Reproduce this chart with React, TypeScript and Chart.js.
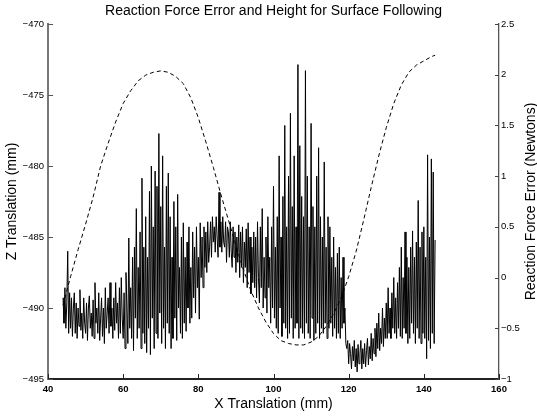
import React, { useEffect, useRef } from "react";
import { Chart, registerables } from "chart.js";

Chart.register(...registerables);

const TITLE = "Reaction Force Error and Height for Surface Following";
const X_LABEL = "X Translation (mm)";
const Y_LEFT_LABEL = "Z Translation (mm)";
const Y_RIGHT_LABEL = "Reaction Force Error (Newtons)";

const X_TICKS = [40, 60, 80, 100, 120, 140, 160];
const Z_TICKS = [-495, -490, -485, -480, -475, -470];
const F_TICKS = [-1, -0.5, 0, 0.5, 1, 1.5, 2, 2.5];

// Dashed series: Z height (mm) vs X translation (mm)
const heightX = [
  44, 46, 48, 50, 52, 54, 56, 58, 60, 62, 64, 66, 68, 70, 72, 74, 76, 78, 80,
  82, 84, 86, 88, 90, 92, 94, 96, 98, 100, 102, 104, 106, 108, 110, 112, 114,
  116, 118, 120, 122, 124, 126, 128, 130, 132, 134, 136, 138, 140, 142, 143,
];
const heightZ = [
  -489.8, -487.8, -485.9, -484.1, -482.2, -480.0, -478.4, -476.9, -475.6,
  -474.7, -474.0, -473.6, -473.4, -473.3, -473.4, -473.7, -474.2, -475.2,
  -476.6, -478.3, -480.1, -482.0, -483.8, -485.6, -487.3, -488.8, -490.0,
  -491.0, -491.8, -492.3, -492.5, -492.6, -492.6, -492.4, -492.0, -491.3,
  -490.4, -489.3, -487.8, -486.0, -483.8, -481.5, -479.3, -477.3, -475.6,
  -474.3, -473.4, -472.9, -472.6, -472.3, -472.2,
];

// Solid series: reaction force error (N), sampled every 0.25 mm from 44 mm
const FORCE_X_START = 44;
const FORCE_X_STEP = 0.25;
const forceValues = [
  -0.2, -0.45, -0.1, -0.5, // 44
  -0.25, 0.26, -0.55, -0.15, // 45
  -0.5, -0.2, -0.58, -0.3, // 46
  -0.15, -0.55, -0.25, -0.6, // 47
  -0.3, -0.48, -0.12, -0.52, // 48
  -0.35, -0.6, -0.2, -0.45, // 49
  -0.55, -0.25, -0.62, -0.3, // 50
  -0.18, -0.5, -0.35, -0.58, // 51
  -0.22, -0.6, -0.05, -0.45, // 52
  -0.3, -0.55, -0.15, -0.62, // 53
  -0.4, -0.2, -0.58, -0.3, // 54
  -0.65, -0.1, -0.5, -0.35, // 55
  -0.2, -0.55, -0.05, -0.48, // 56
  -0.3, -0.6, -0.2, -0.52, // 57
  -0.05, -0.45, -0.25, -0.6, // 58
  -0.1, -0.55, 0.0, -0.4, // 59
  -0.6, -0.15, -0.7, 0.05, // 60
  -0.3, -0.65, 0.39, -0.5, // 61
  -0.1, -0.6, 0.2, -0.72, // 62
  0.3, -0.4, 0.68, -0.6, // 63
  0.1, -0.5, 0.45, -0.7, // 64
  0.98, -0.55, 0.3, -0.65, // 65
  0.6, -0.74, 0.2, -0.5, // 66
  0.85, -0.76, 1.1, -0.4, // 67
  0.5, -0.7, 1.05, -0.55, // 68
  0.9, -0.6, 1.42, -0.35, // 69
  0.7, -0.65, 1.2, -0.5, // 70
  0.3, -0.7, 0.9, -0.45, // 71
  1.03, -0.55, 0.6, -0.7, // 72
  0.2, -0.6, 0.75, -0.4, // 73
  0.5, -0.62, 0.82, -0.3, // 74
  0.1, -0.55, 0.4, -0.6, // 75
  0.54, -0.45, 0.2, -0.53, // 76
  0.35, -0.3, 0.5, -0.45, // 77
  0.1, -0.4, 0.45, -0.2, // 78
  0.3, -0.35, 0.5, -0.1, // 79
  0.2, -0.41, 0.54, 0.0, // 80
  0.4, -0.1, 0.5, 0.1, // 81
  0.45, 0.05, 0.55, 0.15, // 82
  0.3, 0.55, 0.2, 0.6, // 83
  0.35, 0.5, 0.25, 0.6, // 84
  0.4, 0.2, 0.84, 0.3, // 85
  0.55, 0.25, 0.6, 0.35, // 86
  0.3, 0.55, 0.15, 0.5, // 87
  0.45, 0.2, 0.55, 0.25, // 88
  0.1, 0.5, 0.2, 0.45, // 89
  0.05, 0.4, 0.15, 0.52, // 90
  0.0, 0.45, 0.1, 0.5, // 91
  -0.05, 0.35, 0.1, 0.48, // 92
  -0.1, 0.54, 0.05, 0.4, // 93
  -0.16, 0.3, -0.05, 0.45, // 94
  -0.1, 0.4, -0.2, 0.55, // 95
  0.0, -0.25, 0.5, -0.1, // 96
  0.68, -0.3, 0.2, -0.2, // 97
  0.4, -0.35, 0.6, -0.1, // 98
  0.2, -0.45, 0.5, -0.3, // 99
  0.9, -0.4, 0.3, -0.5, // 100
  0.6, -0.55, 1.2, -0.3, // 101
  0.4, -0.58, 0.8, -0.45, // 102
  1.5, -0.5, 0.5, -0.6, // 103
  1.0, -0.55, 1.62, -0.4, // 104
  0.7, -0.6, 1.2, -0.5, // 105
  0.5, -0.45, 2.1, -0.6, // 106
  1.3, -0.5, 0.8, -0.55, // 107
  0.6, -0.6, 2.04, -0.45, // 108
  1.0, -0.55, 0.5, -0.6, // 109
  1.52, -0.4, 0.7, -0.62, // 110
  0.5, -0.55, 1.0, -0.45, // 111
  1.28, -0.6, 0.6, -0.5, // 112
  0.4, -0.55, 1.14, -0.45, // 113
  0.3, -0.6, 0.6, -0.5, // 114
  0.5, -0.45, 0.2, -0.58, // 115
  0.4, -0.5, 0.1, -0.6, // 116
  0.24, -0.55, 0.3, -0.6, // 117
  0.0, -0.5, 0.2, -0.45, // 118
  -0.3, -0.65, -0.7, -0.62, // 119
  -0.85, -0.65, -0.75, -0.9, // 120
  -0.68, -0.82, -0.62, -0.88, // 121
  -0.7, -0.93, -0.66, -0.85, // 122
  -0.75, -0.62, -0.9, -0.7, // 123
  -0.85, -0.65, -0.88, -0.72, // 124
  -0.6, -0.86, -0.68, -0.8, // 125
  -0.55, -0.82, -0.6, -0.75, // 126
  -0.5, -0.78, -0.45, -0.7, // 127
  -0.35, -0.72, -0.5, -0.65, // 128
  -0.3, -0.68, -0.4, -0.6, // 129
  -0.25, -0.6, -0.1, -0.55, // 130
  -0.3, -0.6, -0.15, -0.5, // 131
  0.0, -0.55, -0.2, -0.6, // 132
  -0.05, -0.5, 0.1, -0.58, // 133
  0.3, -0.6, 0.0, -0.5, // 134
  0.45, -0.55, 0.2, -0.65, // 135
  0.1, -0.6, 0.3, -0.45, // 136
  0.46, -0.55, 0.2, -0.65, // 137
  0.35, -0.5, 0.76, -0.6, // 138
  0.3, -0.65, 0.45, -0.55, // 139
  0.5, -0.6, 0.2, -0.8, // 140
  1.21, -0.62, 0.4, -0.7, // 141
  1.17, -0.55, 1.04, -0.65, // 142
  0.37, // 143
];

const FONT = "'Liberation Sans', Arial, Helvetica, sans-serif";

const fmt = (v: number | string) => String(v).replace("-", "\u2212");

const axisDecor = {
  id: "axisDecor",
  afterDraw(chart: any) {
    const { ctx, chartArea, scales } = chart;
    const len = 5;
    ctx.save();
    ctx.lineWidth = 1;
    const xs = scales.x;
    ctx.strokeStyle = "#222";
    xs.ticks.forEach((t: any) => {
      const px = Math.round(xs.getPixelForValue(t.value)) + 0.5;
      ctx.beginPath();
      ctx.moveTo(px, chartArea.bottom);
      ctx.lineTo(px, chartArea.bottom - len);
      ctx.stroke();
    });
    const yl = scales.y;
    ctx.strokeStyle = "#555";
    yl.ticks.forEach((t: any) => {
      const py = Math.round(yl.getPixelForValue(t.value)) + 0.5;
      ctx.beginPath();
      ctx.moveTo(chartArea.left, py);
      ctx.lineTo(chartArea.left + len, py);
      ctx.stroke();
    });
    const yr = scales.y1;
    ctx.strokeStyle = "#444";
    yr.ticks.forEach((t: any) => {
      const py = Math.round(yr.getPixelForValue(t.value)) + 0.5;
      ctx.beginPath();
      ctx.moveTo(chartArea.right, py);
      ctx.lineTo(chartArea.right - len + 1, py);
      ctx.stroke();
    });
    // right axis title, reading bottom-to-top
    ctx.translate(531, (chartArea.top + chartArea.bottom) / 2);
    ctx.rotate(-Math.PI / 2);
    ctx.fillStyle = "#000";
    ctx.font = `14px ${FONT}`;
    ctx.textAlign = "center";
    ctx.textBaseline = "middle";
    ctx.fillText(Y_RIGHT_LABEL, 0, 0);
    ctx.restore();
  },
};

export default function App() {
  const canvasRef = useRef<HTMLCanvasElement | null>(null);

  useEffect(() => {
    if (!canvasRef.current) return;
    const chart = new Chart(canvasRef.current, {
      type: "line",
      data: {
        datasets: [
          {
            label: "Reaction Force Error",
            data: forceValues.map((y, i) => ({ x: FORCE_X_START + i * FORCE_X_STEP, y })),
            yAxisID: "y1",
            borderColor: "#000",
            borderWidth: 1,
            pointRadius: 0,
            tension: 0,
            fill: false,
          },
          {
            label: "Z Height",
            data: heightX.map((x, i) => ({ x, y: heightZ[i] })),
            yAxisID: "y",
            borderColor: "#000",
            borderWidth: 1,
            borderDash: [4, 3],
            pointRadius: 0,
            tension: 0,
            fill: false,
          },
        ],
      },
      options: {
        animation: false,
        responsive: false,
        maintainAspectRatio: false,
        layout: { padding: 0 },
        plugins: {
          legend: { display: false },
          tooltip: { enabled: false },
          title: {
            display: true,
            text: TITLE,
            fullSize: false,
            color: "#000",
            font: { family: FONT, size: 14, weight: "normal" },
            padding: { top: 2.6, bottom: 4.6 },
          },
        },
        scales: {
          x: {
            type: "linear",
            position: "bottom",
            min: 40,
            max: 160,
            afterBuildTicks: (s: any) => {
              s.ticks = X_TICKS.map((v) => ({ value: v }));
            },
            afterFit: (s: any) => {
              s.height = 37;
            },
            grid: { display: false, drawTicks: false },
            border: { display: true, color: "#222", width: 2 },
            ticks: {
              color: "#000",
              padding: 5,
              font: { family: FONT, size: 9.5, weight: "bold" },
              maxRotation: 0,
              callback: (v: any) => fmt(v),
            },
            title: {
              display: true,
              text: X_LABEL,
              color: "#000",
              font: { family: FONT, size: 14 },
              padding: { top: 0, bottom: 3.6 },
            },
          },
          y: {
            type: "linear",
            position: "left",
            min: -495,
            max: -470,
            afterBuildTicks: (s: any) => {
              s.ticks = Z_TICKS.map((v) => ({ value: v }));
            },
            afterFit: (s: any) => {
              s.width = 48;
            },
            grid: { display: false, drawTicks: false },
            border: { display: true, color: "#777", width: 2 },
            ticks: {
              color: "#000",
              padding: 4,
              font: { family: FONT, size: 9.5 },
              callback: (v: any) => fmt(v),
            },
            title: {
              display: true,
              text: Y_LEFT_LABEL,
              color: "#000",
              font: { family: FONT, size: 14 },
              padding: { top: 3.6, bottom: 0 },
            },
          },
          y1: {
            type: "linear",
            position: "right",
            min: -1,
            max: 2.5,
            afterBuildTicks: (s: any) => {
              s.ticks = F_TICKS.map((v) => ({ value: v }));
            },
            afterFit: (s: any) => {
              s.width = 38;
            },
            grid: { display: false, drawTicks: false },
            border: { display: true, color: "#555", width: 1.3 },
            ticks: {
              color: "#000",
              padding: 2,
              font: { family: FONT, size: 9.5 },
              callback: (v: any) => fmt(v),
            },
          },
        },
      },
      plugins: [axisDecor],
    } as any);
    return () => chart.destroy();
  }, []);

  return (
    <div style={{ position: "absolute", left: 0, top: 0, width: 537, height: 416, background: "#fff" }}>
      <canvas ref={canvasRef} width={537} height={416} style={{ width: 537, height: 416, display: "block" }} />
    </div>
  );
}
